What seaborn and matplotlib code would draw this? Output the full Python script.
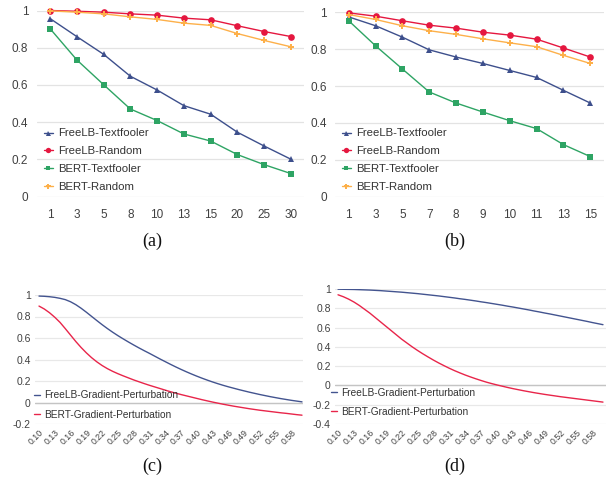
import matplotlib
matplotlib.use("Agg")
import matplotlib.pyplot as plt
import seaborn as sns
import numpy as np
import pandas as pd

sns.set_theme(style="white")
plt.rcParams['font.family'] = ['Liberation Sans', 'DejaVu Sans']

# ---------------- data ----------------
cats_a = ['1', '3', '5', '8', '10', '13', '15', '20', '25', '30']
a_freelb_tf = [0.957, 0.860, 0.765, 0.647, 0.573, 0.489, 0.443, 0.346, 0.272, 0.201]
a_freelb_rd = [1.000, 0.996, 0.991, 0.982, 0.975, 0.959, 0.950, 0.918, 0.887, 0.860]
a_bert_tf = [0.903, 0.735, 0.602, 0.471, 0.409, 0.337, 0.299, 0.226, 0.172, 0.124]
a_bert_rd = [0.998, 0.991, 0.982, 0.966, 0.952, 0.932, 0.920, 0.876, 0.839, 0.805]

cats_b = ['1', '3', '5', '7', '8', '9', '10', '11', '13', '15']
b_freelb_tf = [0.976, 0.928, 0.866, 0.797, 0.758, 0.723, 0.685, 0.647, 0.577, 0.508]
b_freelb_rd = [0.998, 0.980, 0.955, 0.931, 0.915, 0.893, 0.877, 0.855, 0.807, 0.758]
b_bert_tf = [0.955, 0.819, 0.693, 0.568, 0.508, 0.459, 0.412, 0.369, 0.282, 0.217]
b_bert_rd = [0.989, 0.962, 0.928, 0.901, 0.881, 0.857, 0.835, 0.814, 0.767, 0.723]

eps = [0.10, 0.11, 0.12, 0.13, 0.14, 0.15, 0.16, 0.17, 0.18, 0.19,
       0.20, 0.21, 0.22, 0.23, 0.24, 0.25, 0.26, 0.27, 0.28, 0.29,
       0.30, 0.31, 0.32, 0.33, 0.34, 0.35, 0.36, 0.37, 0.38, 0.39,
       0.40, 0.41, 0.42, 0.43, 0.44, 0.45, 0.46, 0.47, 0.48, 0.49,
       0.50, 0.51, 0.52, 0.53, 0.54, 0.55, 0.56, 0.57, 0.58, 0.59, 0.60]
eps_ticks = [0.10, 0.13, 0.16, 0.19, 0.22, 0.25, 0.28, 0.31, 0.34, 0.37,
             0.40, 0.43, 0.46, 0.49, 0.52, 0.55, 0.58]

c_freelb = [0.990, 0.988, 0.984, 0.978, 0.969, 0.957, 0.937, 0.910, 0.877, 0.840,
            0.801, 0.762, 0.724, 0.688, 0.654, 0.622, 0.592, 0.563, 0.535, 0.508,
            0.482, 0.457, 0.431, 0.405, 0.380, 0.355, 0.331, 0.308, 0.286, 0.265,
            0.245, 0.226, 0.208, 0.191, 0.175, 0.160, 0.146, 0.133, 0.120, 0.108,
            0.096, 0.085, 0.074, 0.064, 0.054, 0.045, 0.036, 0.028, 0.020, 0.013, 0.006]
c_bert = [0.897, 0.870, 0.835, 0.793, 0.745, 0.687, 0.627, 0.567, 0.512, 0.462,
          0.417, 0.378, 0.344, 0.315, 0.290, 0.268, 0.248, 0.229, 0.210, 0.193,
          0.176, 0.160, 0.145, 0.130, 0.115, 0.100, 0.087, 0.074, 0.062, 0.050,
          0.038, 0.026, 0.015, 0.004, -0.006, -0.016, -0.025, -0.034, -0.042, -0.050,
          -0.058, -0.065, -0.072, -0.078, -0.084, -0.090, -0.096, -0.101, -0.107, -0.113, -0.118]

d_freelb = [0.998, 0.997, 0.996, 0.995, 0.993, 0.991, 0.989, 0.986, 0.983, 0.979,
            0.975, 0.971, 0.967, 0.962, 0.957, 0.952, 0.946, 0.940, 0.934, 0.928,
            0.921, 0.914, 0.907, 0.899, 0.892, 0.884, 0.876, 0.867, 0.859, 0.850,
            0.841, 0.832, 0.822, 0.813, 0.803, 0.793, 0.783, 0.772, 0.762, 0.751,
            0.741, 0.730, 0.719, 0.708, 0.697, 0.686, 0.675, 0.664, 0.652, 0.641, 0.630]
d_bert = [0.940, 0.920, 0.895, 0.865, 0.830, 0.790, 0.750, 0.705, 0.660, 0.615,
          0.570, 0.525, 0.480, 0.440, 0.400, 0.363, 0.328, 0.295, 0.263, 0.233,
          0.205, 0.178, 0.153, 0.130, 0.108, 0.088, 0.069, 0.051, 0.034, 0.019,
          0.005, -0.008, -0.021, -0.033, -0.044, -0.055, -0.065, -0.075, -0.084, -0.093,
          -0.101, -0.109, -0.117, -0.124, -0.131, -0.138, -0.145, -0.152, -0.159, -0.166, -0.173]

top_labels = ['FreeLB-Textfooler', 'FreeLB-Random', 'BERT-Textfooler', 'BERT-Random']
bot_labels = ['FreeLB-Gradient-Perturbation', 'BERT-Gradient-Perturbation']

BLUE = '#3D4F8C'
RED = '#E5173F'
GREEN = '#2EA464'
ORANGE = '#FDB04A'
BLUE2 = '#43548F'
RED2 = '#E8254A'

W, H = 606, 486
fig = plt.figure(figsize=(W / 100, H / 100), dpi=100)


def px_axes(l, r, t, b):
    return fig.add_axes([l / W, 1 - b / H, (r - l) / W, (b - t) / H])


def style_axes(ax, fs):
    for s in ax.spines.values():
        s.set_visible(False)
    ax.tick_params(axis='both', length=0, labelsize=fs, colors='#404040')
    ax.yaxis.grid(True, color='#E8E8E8', lw=0.9)
    ax.xaxis.grid(False)
    ax.set_xlabel('')
    ax.set_ylabel('')


def top_panel(ax, cats, series, legend_xy):
    colors = [BLUE, RED, GREEN, ORANGE]
    markers = ['^', 'o', 's', 'P']
    msizes = [4.5, 4.8, 4.0, 4.5]
    for vals, lab, c, m, ms in zip(series, top_labels, colors, markers, msizes):
        sns.lineplot(x=cats, y=vals, ax=ax, color=c, marker=m, markersize=ms,
                     markeredgewidth=0, lw=1.0, label=lab, sort=False, clip_on=False)
    ax.set_xlim(-0.5, len(cats) - 0.5)
    ax.set_ylim(0, 1.0)
    ax.set_yticks([0, 0.2, 0.4, 0.6, 0.8, 1.0])
    ax.set_yticklabels(['0', '0.2', '0.4', '0.6', '0.8', '1'])
    style_axes(ax, 8.5)
    ax.tick_params(axis='y', pad=6)
    ax.tick_params(axis='x', pad=9)
    ax.yaxis.grid(True, color='#E3E3E3', lw=0.9)
    leg = ax.legend(loc='upper left', bbox_to_anchor=(legend_xy[0] / W, 1 - legend_xy[1] / H),
                    bbox_transform=fig.transFigure, frameon=False, fontsize=8.2,
                    handlelength=0.75, handletextpad=0.45, labelspacing=0.68,
                    borderpad=0, borderaxespad=0, markerscale=0.8)
    for t in leg.get_texts():
        t.set_color('#333333')


def bottom_panel(ax, xs, series, ylim, yticks, yticklabels, xlim, legend_xy):
    colors = [BLUE2, RED2]
    for vals, lab, c in zip(series, bot_labels, colors):
        sns.lineplot(x=xs, y=vals, ax=ax, color=c, lw=1.0, label=lab, sort=False)
    ax.set_xlim(*xlim)
    ax.set_ylim(*ylim)
    ax.set_yticks(yticks)
    ax.set_yticklabels(yticklabels)
    ax.set_xticks(eps_ticks)
    ax.set_xticklabels(['%.2f' % v for v in eps_ticks], rotation=45, ha='right',
                       va='top', rotation_mode='anchor')
    style_axes(ax, 7.5)
    ax.tick_params(axis='x', labelsize=6.3, pad=3)
    ax.tick_params(axis='y', pad=3)
    ax.axhline(0, color='#C4C4C4', lw=1.0, zorder=1)
    leg = ax.legend(loc='upper left', bbox_to_anchor=(legend_xy[0] / W, 1 - legend_xy[1] / H),
                    bbox_transform=fig.transFigure, frameon=False, fontsize=7.3,
                    handlelength=0.55, handletextpad=0.45, labelspacing=0.9,
                    borderpad=0, borderaxespad=0)
    for t in leg.get_texts():
        t.set_color('#333333')


ax_a = px_axes(36.6, 304.4, 10.5, 196.7)
top_panel(ax_a, cats_a, [a_freelb_tf, a_freelb_rd, a_bert_tf, a_bert_rd], (44, 128.5))

ax_b = px_axes(335.3, 603.7, 12.5, 196.5)
top_panel(ax_b, cats_b, [b_freelb_tf, b_freelb_rd, b_bert_tf, b_bert_rd], (342, 128.5))

ax_c = px_axes(35, 303, 295, 424)
bottom_panel(ax_c, eps, [c_freelb, c_bert], (-0.2, 1.0),
             [-0.2, 0, 0.2, 0.4, 0.6, 0.8, 1.0], ['-0.2', '0', '0.2', '0.4', '0.6', '0.8', '1'],
             (0.0924, 0.6019), (34, 390.5))

ax_d = px_axes(335, 606, 289, 424)
bottom_panel(ax_d, eps, [d_freelb, d_bert], (-0.4, 1.0),
             [-0.4, -0.2, 0, 0.2, 0.4, 0.6, 0.8, 1.0],
             ['-0.4', '-0.2', '0', '0.2', '0.4', '0.6', '0.8', '1'],
             (0.0943, 0.6057), (331, 387.5))

for x, y, s in [(152, 241, '(a)'), (455, 241, '(b)'), (152, 466, '(c)'), (455, 466, '(d)')]:
    fig.text(x / W, 1 - y / H, s, ha='center', va='center', fontsize=13,
             family='Liberation Serif', color='#111111')

fig.savefig('out.png', dpi=100)
